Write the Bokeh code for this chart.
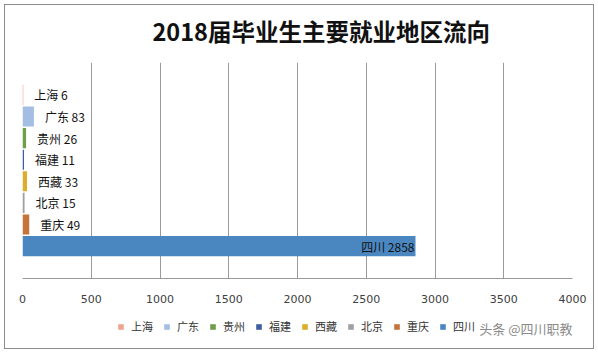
from bokeh.plotting import figure
from bokeh.layouts import column
from bokeh.models import (ColumnDataSource, FactorRange, Range1d, FixedTicker,
                          Legend, LegendItem, Label)
from bokeh.core.properties import value
from bokeh.embed import file_html
from bokeh.resources import INLINE

# ---- data ----
regions = ["上海", "广东", "贵州", "福建", "西藏", "北京", "重庆", "四川"]
counts = [6, 83, 26, 11, 33, 15, 49, 2858]
colors = ["#EDA58E", "#A3BEE2", "#6E9E4A", "#3F5E9E", "#DDAD2C", "#A0A0A0", "#C4743A", "#4A86C0"]
x_ticks = [0, 500, 1000, 1500, 2000, 2500, 3000, 3500, 4000]
title_text = "2018届毕业生主要就业地区流向"
watermark = "头条 @四川职教"

CJK = "Noto Sans CJK SC"
STRIP_W = 570


def blank(h):
    f = figure(frame_width=STRIP_W, frame_height=h, output_backend="svg",
               toolbar_location=None,
               x_range=Range1d(0, STRIP_W), y_range=Range1d(0, h),
               min_border=0, outline_line_color=None)
    f.axis.visible = False
    f.grid.visible = False
    f.border_fill_color = "white"
    return f


# title strip
p0 = blank(50)
p0.add_layout(Label(x=130, y=25, text=title_text, text_font=CJK,
                    text_font_size="23.5px", text_font_style="bold",
                    text_color="#111111", text_align="left",
                    text_baseline="middle"))

# main chart
p = figure(width=588, height=250, output_backend="svg", toolbar_location=None,
           y_range=FactorRange(factors=list(reversed(regions)), range_padding=0.25,
                               range_padding_units="percent"),
           x_range=Range1d(0, 4000),
           min_border_left=17, min_border_right=21, min_border_top=7,
           min_border_bottom=23)
p.outline_line_color = None
p.background_fill_color = "white"
p.border_fill_color = "white"

p.ygrid.grid_line_color = None
p.xgrid.grid_line_color = "#9a9a9a"
p.xgrid.grid_line_width = 1
p.yaxis.visible = False
p.xaxis.ticker = FixedTicker(ticks=x_ticks)
p.xaxis.axis_line_color = "#9a9a9a"
p.xaxis.major_tick_line_color = None
p.xaxis.minor_tick_line_color = None
p.xaxis.major_label_text_font = "DejaVu Sans"
p.xaxis.major_label_text_font_size = "11px"
p.xaxis.major_label_text_color = "#404040"
p.xaxis.major_label_standoff = 10

for r, c, col in zip(regions, counts, colors):
    src = ColumnDataSource(dict(y=[r], v=[c]))
    p.hbar(y="y", right="v", left=0, height=0.93, source=src,
           fill_color=col, line_color=None)

labels = [f"{r} {c}" for r, c in zip(regions, counts)]
outside = ColumnDataSource(dict(y=regions[:-1], x=counts[:-1], t=labels[:-1]))
inside = ColumnDataSource(dict(y=regions[-1:], x=counts[-1:], t=labels[-1:]))
p.text(x="x", y="y", text="t", source=outside, x_offset=11,
       text_font=value(CJK), text_font_size="12px", text_color="#111111",
       text_baseline="middle", text_align="left")
p.text(x="x", y="y", text="t", source=inside, x_offset=-1,
       text_font=value(CJK), text_font_size="12px", text_color="#111111",
       text_baseline="middle", text_align="right")

# legend strip (same series; hidden glyphs only feed the legend)
p2 = blank(43)
legend_items = []
for i, (r, c, col) in enumerate(zip(regions, counts, colors)):
    rend = p2.hbar(y=[i], right=[c], left=0, height=0.9,
                   fill_color=col, line_color=None, visible=False)
    legend_items.append(LegendItem(label=r, renderers=[rend]))
legend = Legend(items=legend_items, orientation="horizontal", location=(112, 14),
                glyph_width=7, glyph_height=7, label_standoff=7, spacing=10,
                label_text_font=CJK, label_text_font_size="11px",
                label_text_color="#333333", label_height=14, label_width=10,
                padding=0, margin=0, border_line_color=None,
                background_fill_alpha=0)
p2.add_layout(legend)
p2.add_layout(Label(x=550, y=20, text=watermark, text_font=CJK,
                    text_font_size="13px", text_color="#8a8a8a",
                    text_align="right", text_baseline="middle"))

layout = column(p0, p, p2, spacing=0,
                styles={"border": "1px solid #8c8c8c", "margin": "4px"})

open("out.html", "w").write(file_html(layout, INLINE))
